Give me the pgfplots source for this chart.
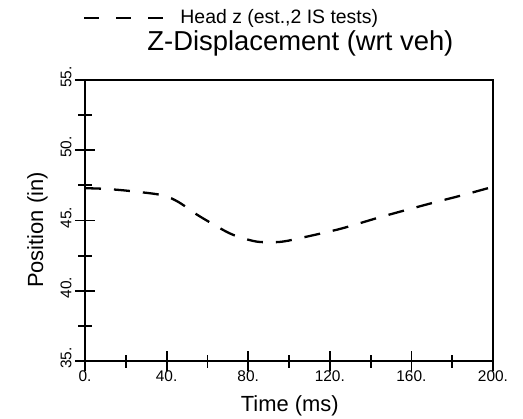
\documentclass[border=0pt]{standalone}
\usepackage{pgfplots}
\pgfplotsset{compat=1.18}
\usepackage{fontspec}
\setmainfont{Liberation Sans}
\usetikzlibrary{calc}
\begin{document}
\begin{tikzpicture}
  \begin{axis}[
      scale only axis,
      width=408bp, height=281bp,
      xmin=0, xmax=200, ymin=35, ymax=55,
      xtick={0,40,...,200},
      xticklabels={0.,40.,80.,120.,160.,200.},
      minor xtick={20,60,...,180},
      ytick={35,40,...,55},
      yticklabels={35.,40.,45.,50.,55.},
      minor ytick={37.5,42.5,47.5,52.5},
      xtick pos=bottom, ytick pos=left,
      tick align=center,
      major tick length=20bp,
      minor tick length=13bp,
      tick style={black, line width=1.8bp},
      axis line style={line width=1.4bp},
      /pgf/number format/assume math mode=true,
      xticklabel style={font=\fontsize{15.5}{15.5}\selectfont, anchor=north, yshift=4bp},
      yticklabel style={font=\fontsize{15.5}{15.5}\selectfont, rotate=90, anchor=south, xshift=3bp},
      xlabel={Time (ms)},
      ylabel={Position (in)},
      xlabel style={font=\fontsize{22}{22}\selectfont, at={(axis description cs:0.502,-0.181)}, anchor=base},
      ylabel style={font=\fontsize{22}{22}\selectfont, at={(axis description cs:-0.083,0.466)}, anchor=south, rotate=0},
      title={Z-Displacement (wrt veh)},
      title style={font=\fontsize{27.5}{27.5}\selectfont, at={(axis description cs:0.528,1.082)}, anchor=base},
      legend style={draw=none, fill=none, at={(axis description cs:-0.005,1.222)}, anchor=west,
                    inner sep=0pt, font=\fontsize{19.5}{19.5}\selectfont,
                    nodes={inner sep=0pt, anchor=base west},
                    /tikz/every odd column/.style={column sep=16bp}},
      legend cell align=left,
      legend image code/.code={
        \path (0bp,0bp);
        \draw[#1, dash pattern=on 15bp off 17bp] (0bp,0.6em) -- (79bp,0.6em);
      },
    ]
    % head z estimate
    \addplot[black, line width=2.3bp, dash pattern=on 16bp off 13bp, smooth, tension=0.5] coordinates {
      (0,47.3) (10,47.25) (22,47.1) (38,46.8) (46,46.3) (54,45.5)
      (62,44.8) (70,44.15) (76,43.8) (84,43.5) (91,43.45) (97,43.5)
      (104,43.7) (125,44.4) (145,45.25) (169,46.2) (185,46.8) (200,47.4)
    };
    \addlegendentry{Head z (est.,2 IS tests)}
    % heavier left and bottom axis lines
    \draw[line width=2.6bp] (rel axis cs:0,1) -- (rel axis cs:0,0) -- (rel axis cs:1,0);
    \coordinate (sw) at (rel axis cs:0,0);
    \coordinate (ne) at (rel axis cs:1,1);
  \end{axis}
  \pgfresetboundingbox
  \path ($(sw)+(-85bp,-58bp)$) rectangle ($(ne)+(30bp,80bp)$);
\end{tikzpicture}
\end{document}
